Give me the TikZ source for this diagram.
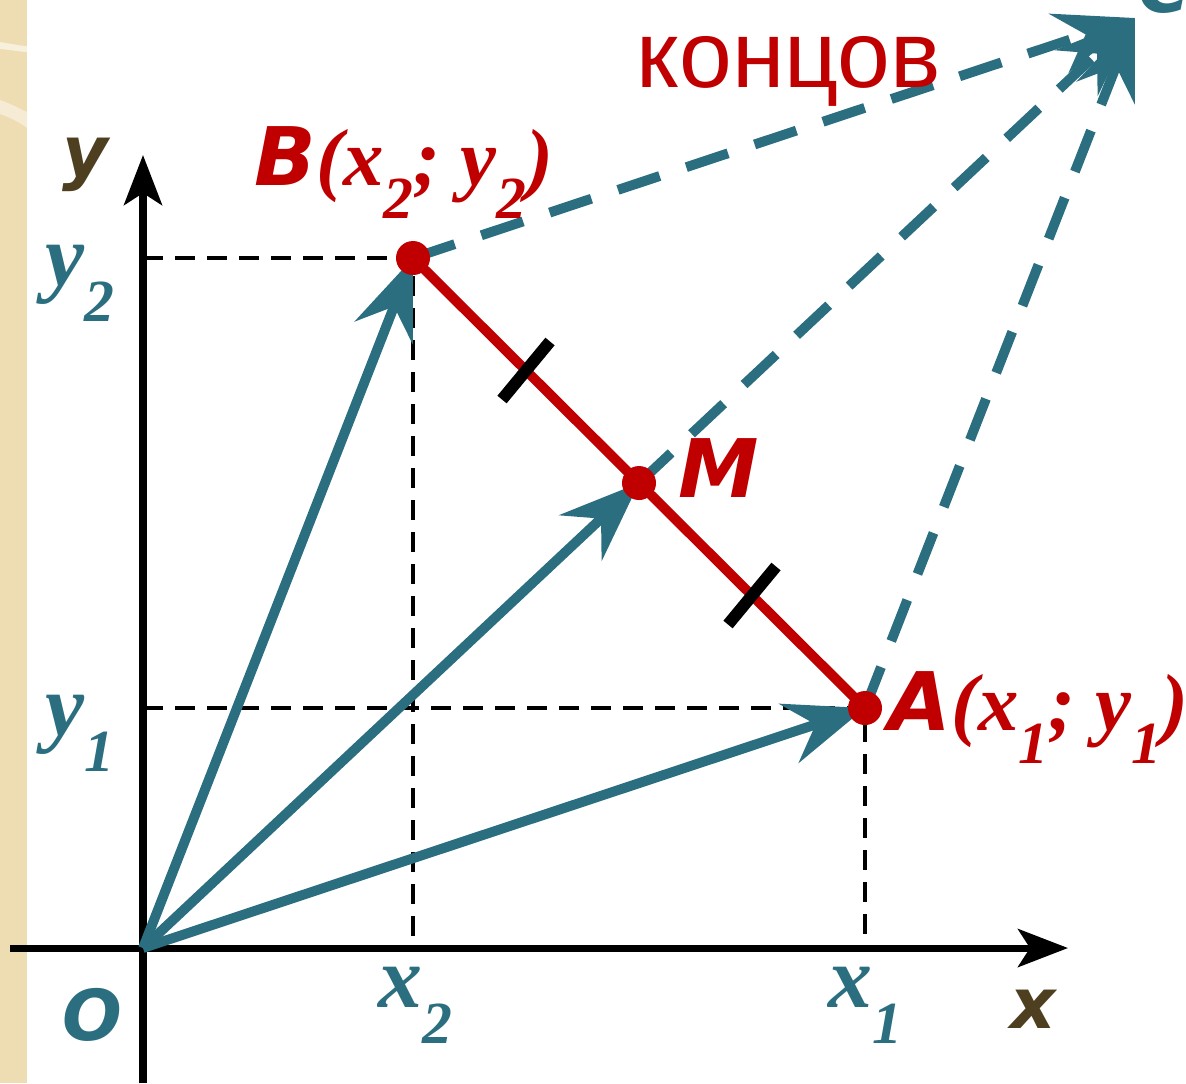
\documentclass[tikz,border=0pt]{standalone}
\usepackage{fontspec}
\setmainfont{Liberation Serif}
\newfontfamily\sansfont{DejaVu Sans}
\newfontfamily\wordfont{Liberation Sans}
\usetikzlibrary{arrows.meta, calc}

\definecolor{vecteal}{HTML}{2A6E80}
\definecolor{ptred}{HTML}{C00000}
\definecolor{axbrown}{HTML}{4D3F1F}
\definecolor{stripbeige}{HTML}{EEDDB2}

% lowered, large subscript as in the slide
\newcommand\lowsub[1]{\raisebox{-0.42em}{\fontsize{17}{17}\selectfont #1}}
\newcommand\ptname[1]{{\fontsize{23}{23}\selectfont\sansfont\bfseries\itshape #1}}

\begin{document}
\begin{tikzpicture}[
  x=0.1mm, y=-0.1mm,
  axis/.style={line width=2pt, -{Stealth[length=5mm, width=3.8mm, inset=1.2mm]}},
  proj/.style={line width=1.1pt, dash pattern=on 2mm off 1.2mm},
  vec/.style={line width=2.8pt, color=vecteal, -{Stealth[length=8mm, width=6.2mm, inset=2.8mm]}},
  sumvec/.style={vec, dash pattern=on 4.4mm off 2.8mm},
  seg/.style={line width=2.8pt, color=ptred},
  halfmark/.style={line width=3.4pt, color=black},
  dot/.style={circle, fill=ptred, inner sep=0pt, minimum size=3.4mm},
  coordlabel/.style={anchor=base west, inner sep=0pt, color=vecteal, font=\fontsize{25}{25}\selectfont\bfseries\itshape},
  ptlabel/.style={anchor=base west, inner sep=0pt, color=ptred, font=\fontsize{23}{23}\selectfont\bfseries\itshape},
  axlabel/.style={anchor=base west, inner sep=0pt, color=axbrown, font=\fontsize{20}{20}\selectfont\sansfont\bfseries\itshape}
]
\useasboundingbox (0,0) rectangle (1186,1083);
\clip (0,0) rectangle (1186,1083);

% --- background strip ---
\fill[stripbeige] (0,0) rectangle (27,1083);
\fill[white!55!stripbeige] (0,42) .. controls (12,44) and (22,46) .. (27,46)
  -- (27,52) .. controls (22,52) and (12,50) .. (0,49) -- cycle;
\fill[white!45!stripbeige] (0,100) .. controls (12,104) and (22,110) .. (27,112)
  -- (27,128) .. controls (22,124) and (12,118) .. (0,114) -- cycle;

% --- points ---
\coordinate (O) at (143,948);
\coordinate (B) at (413,258);
\coordinate (A) at (865,708);
\coordinate (M) at ($(A)!0.5!(B)$);
\coordinate (C) at (1135,18);
\coordinate (xstart) at (10,948);
\coordinate (xend) at (1068,948);
\coordinate (ystart) at (143,1083);
\coordinate (yend) at (143,155);

% --- projections ---
\draw[proj] (B -| O) -- (B) -- (B |- O);
\draw[proj] (A -| O) -- (A) -- (A |- O);

% --- axes ---
\draw[axis] (xstart) -- (xend);
\draw[axis] (ystart) -- (yend);

% --- vectors ---
\draw[vec] (O) -- (B);
\draw[vec] (O) -- (M);
\draw[vec] (O) -- (A);
\draw[sumvec] (B) -- (C);
\draw[sumvec] (M) -- (C);
\draw[sumvec] (A) -- (C);

% --- segment AB ---
\draw[seg] (B) -- (A);
\draw[halfmark] ($(B)!0.25!(A)$) +(-24,29) -- +(24,-29);
\draw[halfmark] ($(B)!0.75!(A)$) +(-24,29) -- +(24,-29);

\node[dot] (Bdot) at (B) {};
\node[dot] (Adot) at (A) {};
\node[dot] (Mdot) at (M) {};

% --- labels ---
\node[ptlabel] (Blab) at (254,185) {\ptname{B}(x\lowsub{2}; y\lowsub{2})};
\node[ptlabel] (Alab) at (888,730) {\ptname{A}(x\lowsub{1}; y\lowsub{1})};
\node[ptlabel] (Mlab) at (678,497) {\ptname{M}};
\node[anchor=base west, inner sep=0pt, color=ptred, font=\fontsize{27}{27}\selectfont\wordfont] (word) at (636,87) {концов};
\node[anchor=base west, inner sep=0pt, color=vecteal, font=\fontsize{20}{20}\selectfont\sansfont\bfseries\itshape] (Clab) at (1138,12) {C};

\node[coordlabel] (y2lab) at (45,285) {y\lowsub{2}};
\node[coordlabel] (y1lab) at (45,735) {y\lowsub{1}};
\node[coordlabel] (x2lab) at (378,1007) {x\lowsub{2}};
\node[coordlabel] (x1lab) at (828,1007) {x\lowsub{1}};
\node[anchor=base west, inner sep=0pt, color=vecteal, font=\fontsize{20}{20}\selectfont\sansfont\bfseries\itshape] (Olab) at (62,1040) {O};

\node[axlabel] (xlab) at (1010,1028) {x};
\node[axlabel] (ylab) at (62,176) {y};
\end{tikzpicture}
\end{document}
